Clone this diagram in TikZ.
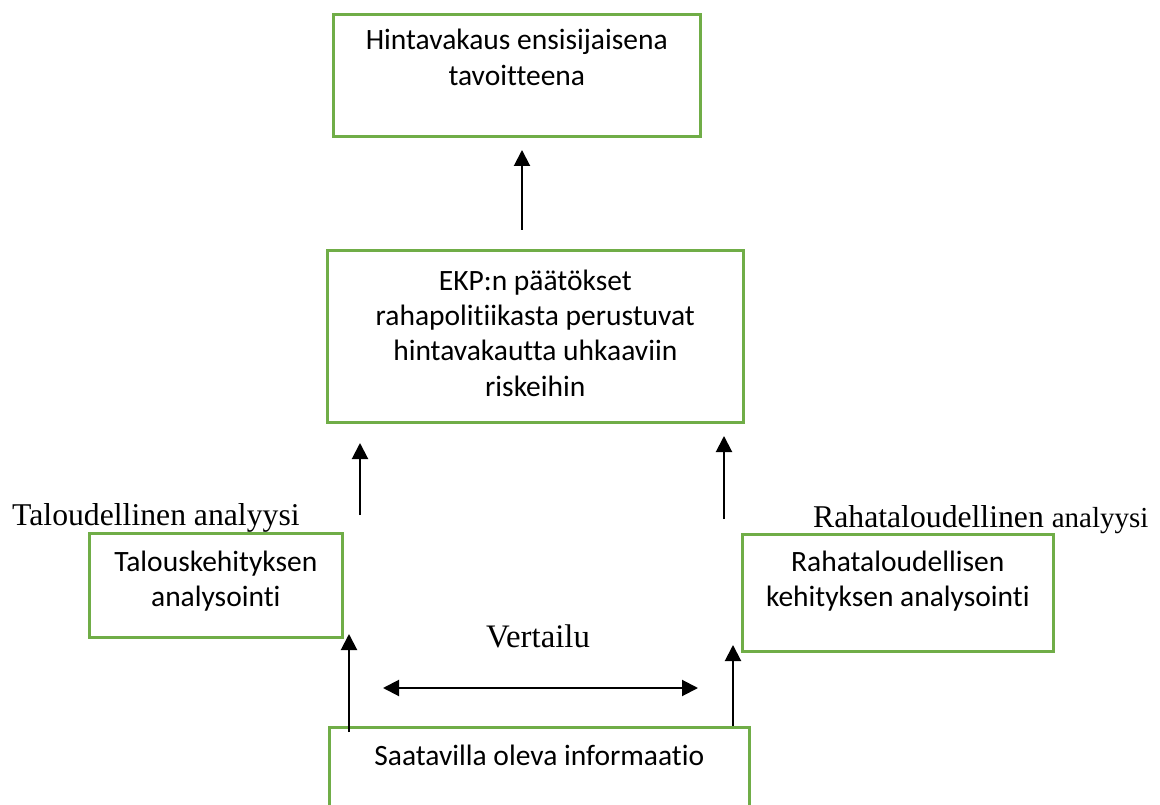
\documentclass[tikz,border=0pt]{standalone}
\usepackage{fontspec}
\setmainfont{Liberation Serif}
\newfontfamily\boxfont[Ligatures=CommonOff]{Carlito}
\usetikzlibrary{arrows.meta,positioning}
\definecolor{boxgreen}{HTML}{70AD47}

\begin{document}
\begin{tikzpicture}[
  x=1pt, y=-1pt,
  box/.style={rectangle, draw=boxgreen, line width=2.6pt, anchor=north west, inner sep=0pt},
  boxtext/.style={font=\boxfont\fontsize{29.5pt}{35.4pt}\selectfont, align=center,
              anchor=base, inner sep=0pt},
  sidelabel/.style={font=\fontsize{31.7pt}{38pt}\selectfont, inner sep=0pt},
  arrow/.style={-{Triangle[length=16pt,width=16pt]}, line width=2pt},
  twoway/.style={{Triangle[length=16pt,width=16pt]}-{Triangle[length=16pt,width=16pt]}, line width=2pt},
]
\useasboundingbox (0,0) rectangle (1160,805);

% Boxes
\node[box, minimum width=367pt, minimum height=122pt] (goal) at (332,13) {};
\node[box, minimum width=416pt, minimum height=172pt] (ecb) at (326,249) {};
\node[box, minimum width=253pt, minimum height=104pt] (econ) at (88,532) {};
\node[box, minimum width=311pt, minimum height=117pt] (money) at (741,533) {};
\node[box, minimum width=420pt, minimum height=110pt] (info) at (328,726) {};

% Box texts (base = last line)
\node[boxtext] (goaltext) at ([yshift=-72.4pt]goal.north) {Hintavakaus ensisijaisena\\tavoitteena};
\node[boxtext] (ecbtext) at ([yshift=-147.2pt]ecb.north) {EKP:n päätökset\\rahapolitiikasta perustuvat\\hintavakautta uhkaaviin\\riskeihin};
\node[boxtext] (econtext) at ([yshift=-74.4pt]econ.north) {Talouskehityksen\\analysointi};
\node[boxtext] (moneytext) at ([yshift=-73.4pt]money.north) {Rahataloudellisen\\kehityksen analysointi};
\node[boxtext] (infotext) at ([yshift=-39pt]info.north) {Saatavilla oleva informaatio};

% Side labels
\node[sidelabel, anchor=base west] (econlabel) at (12,525) {Taloudellinen analyysi};
\node[sidelabel, anchor=base west] (moneylabel) at (813,527)
  {Rahataloudellinen {\fontsize{29pt}{35pt}\selectfont analyysi}};
\node[sidelabel, anchor=base, font=\fontsize{32.8pt}{38pt}\selectfont] (comparelabel) at (538,647) {Vertailu};

% Arrow ends
\coordinate (goalin) at (522,150);
\coordinate (ecbout) at (522,230);
\coordinate (ecbinl) at (360,443);
\coordinate (econout) at (360,515);
\coordinate (ecbinr) at (724,436);
\coordinate (moneyout) at (724,519);
\coordinate (econin) at (349,634);
\coordinate (infooutl) at (349,732);
\coordinate (moneyin) at (733,645);
\coordinate (infooutr) at (733,726);
\coordinate (cmpl) at (383,688);
\coordinate (cmpr) at (698,688);

% Arrows
\draw[arrow] (ecbout) -- (goalin);
\draw[arrow] (econout) -- (ecbinl);
\draw[arrow] (moneyout) -- (ecbinr);
\draw[arrow] (infooutl) -- (econin);
\draw[arrow] (infooutr) -- (moneyin);
\draw[twoway] (cmpl) -- (cmpr);

\end{tikzpicture}
\end{document}
